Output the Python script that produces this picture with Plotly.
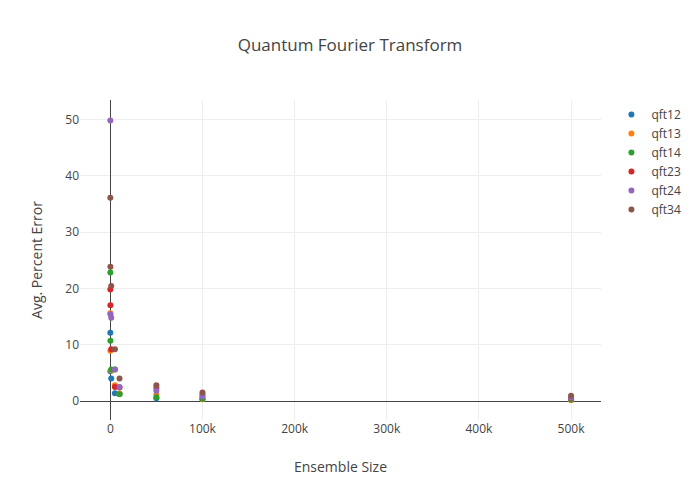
import plotly.graph_objects as go

# ensemble sizes used for every circuit
ensemble = [10, 100, 1000, 5000, 10000, 50000, 100000, 500000]

# avg. percent error per circuit
qft12 = [12.1, 5.3, 4.0, 1.4, 1.3, 0.5, 0.35, 0.2]
qft13 = [15.6, 8.9, 5.4, 2.8, 1.3, 1.1, 0.3, 0.2]
qft14 = [22.8, 10.7, 5.6, 5.6, 1.2, 0.65, 0.4, 0.25]
qft23 = [19.8, 17.0, 9.2, 2.5, 2.4, 2.3, 1.1, 0.5]
qft24 = [49.8, 15.4, 14.8, 5.6, 2.5, 1.8, 0.8, 0.6]
qft34 = [36.1, 23.85, 20.4, 9.2, 4.0, 2.8, 1.5, 0.95]

series = [
    ("qft12", qft12),
    ("qft13", qft13),
    ("qft14", qft14),
    ("qft23", qft23),
    ("qft24", qft24),
    ("qft34", qft34),
]

fig = go.Figure()
for name, vals in series:
    fig.add_trace(go.Scatter(x=ensemble, y=vals, mode="markers", name=name))

# page body adds 8px, so margins are shifted to compensate
fig.update_layout(
    template="none",
    width=700,
    height=500,
    margin=dict(l=72, r=107, t=92, b=88),
    title=dict(text="Quantum Fourier Transform", x=0.4886, xanchor="center",
               y=0.926, yref="container", yanchor="middle"),
    font=dict(family="Open Sans, sans-serif", color="#444"),
)
fig.update_xaxes(title_text="Ensemble Size", range=[-32900, 532500], automargin=False)
fig.update_yaxes(title_text="Avg. Percent Error", range=[-3.37, 53.43], automargin=False)

fig.write_html("out.html")
